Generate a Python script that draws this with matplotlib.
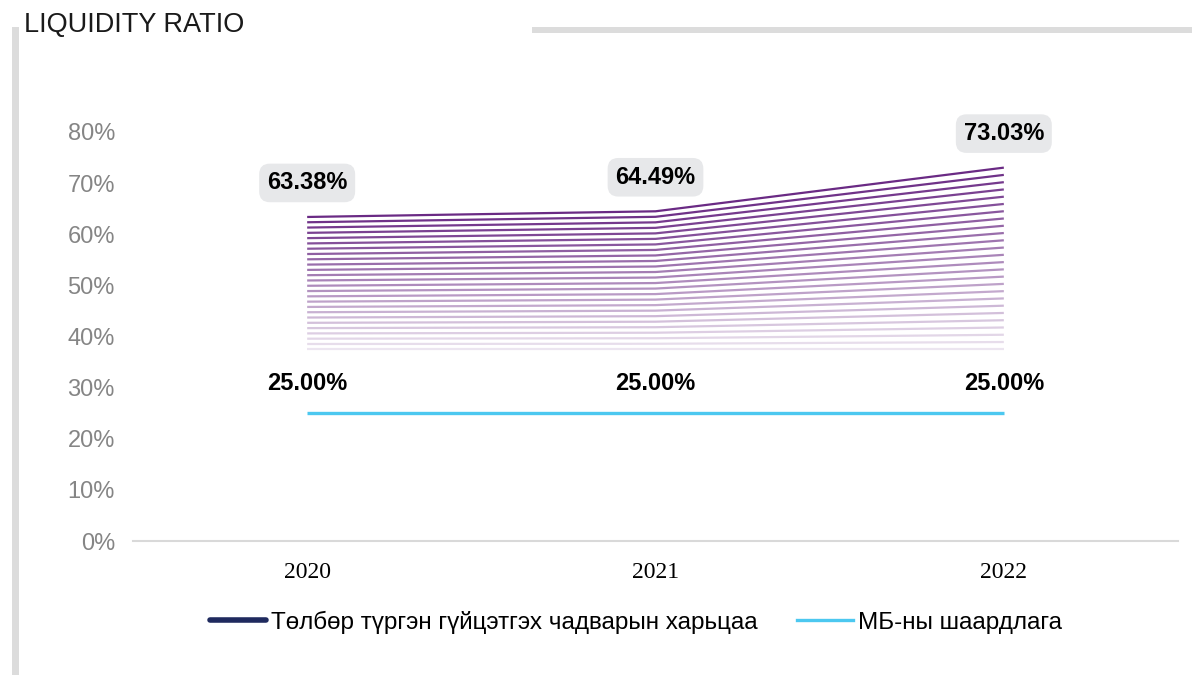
import matplotlib.pyplot as plt
import numpy as np
from matplotlib.lines import Line2D
from matplotlib.patches import Rectangle


YEARS = ["2020", "2021", "2022"]
LIQUIDITY = [63.38, 64.49, 73.03]
REQUIREMENT = [25.00, 25.00, 25.00]
SERIES_LABELS = [
    "Төлбөр түргэн гүйцэтгэх чадварын харьцаа",
    "МБ-ны шаардлага",
]
Y_TICKS = [0, 10, 20, 30, 40, 50, 60, 70, 80]

# decorative fading lines below the liquidity series
SHADOW_FLOOR = 37.5
SHADOW_COUNT = 26

PURPLE = "#6a2a84"
NAVY = "#1f2a5e"
SKY = "#4cc8f0"
GRAY_BAR = "#dcdcdc"

plt.rcParams["font.family"] = ["Liberation Sans", "DejaVu Sans"]

fig = plt.figure(figsize=(11.92, 6.75), dpi=100)
ax = fig.add_axes([133 / 1192, 1 - 541 / 675, (1178 - 133) / 1192, (541 - 132) / 675])

x = np.arange(len(YEARS))
top = np.array(LIQUIDITY)

for i in range(SHADOW_COUNT):
    f = i / (SHADOW_COUNT - 1)
    vals = SHADOW_FLOOR + (top - SHADOW_FLOOR) * f
    ax.plot(x, vals, color=PURPLE, alpha=0.12 + 0.88 * f, lw=1.6,
            solid_capstyle="butt")

ax.plot(x, REQUIREMENT, color=SKY, lw=2.4, solid_capstyle="butt")

for xi, v in zip(x, LIQUIDITY):
    ax.annotate(f"{v:.2f}%", (xi, v), xytext=(0, 24.5), textcoords="offset points",
                ha="center", va="center", fontsize=17, fontweight="bold",
                annotation_clip=False,
                bbox=dict(boxstyle="round,pad=0.33,rounding_size=0.45",
                          fc="#e7e8ea", ec="none"))

for xi, v in zip(x, REQUIREMENT):
    ax.annotate(f"{v:.2f}%", (xi, v), xytext=(0, 21.5), textcoords="offset points",
                ha="center", va="center", fontsize=17, fontweight="bold")

ax.set_xlim(-0.5, 2.5)
ax.set_ylim(0, 80)
ax.set_xticks(x)
ax.set_xticklabels(YEARS, family=["Liberation Serif", "DejaVu Serif"], fontsize=17)
ax.set_yticks(Y_TICKS)
ax.set_yticklabels([f"{t}%" for t in Y_TICKS], fontsize=17, color="#858585")
ax.tick_params(axis="both", length=0)
ax.tick_params(axis="x", pad=15)
ax.tick_params(axis="y", pad=13)

for side in ["top", "right", "left"]:
    ax.spines[side].set_visible(False)
ax.spines["bottom"].set_color("#d9d9d9")
ax.spines["bottom"].set_linewidth(1.5)

fig.text(24 / 1192, 1 - 25 / 675, "LIQUIDITY RATIO", fontsize=19.5,
         va="center", ha="left", color="#1a1a1a")

fig.add_artist(Rectangle((12 / 1192, 0), 7 / 1192, (675 - 27) / 675,
                         transform=fig.transFigure, color=GRAY_BAR, lw=0))
fig.add_artist(Rectangle((532 / 1192, 1 - 33 / 675), 1, 6 / 675,
                         transform=fig.transFigure, color=GRAY_BAR, lw=0))

handles = [
    Line2D([], [], color=NAVY, lw=4, solid_capstyle="round"),
    Line2D([], [], color=SKY, lw=2.4),
]
fig.legend(handles, SERIES_LABELS, loc="center", bbox_to_anchor=(636 / 1192, 1 - 622 / 675),
           ncol=2, frameon=False, handlelength=2.3, handletextpad=0.2,
           columnspacing=1.6, prop={"size": 17.5})

fig.savefig("out.png", dpi=100)
